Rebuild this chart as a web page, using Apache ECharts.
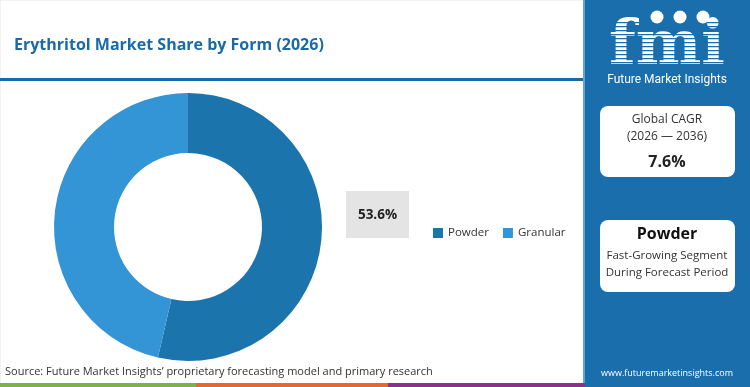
<!DOCTYPE html>
<html>
<head>
<meta charset="utf-8">
<script src="https://cdn.jsdelivr.net/npm/echarts@6/dist/echarts.min.js"></script>
<style>
html,body{margin:0;padding:0;background:#fff;}
#chart{width:750px;height:387px;}
</style>
</head>
<body>
<div id="chart"></div>
<script>
const categories = ['Powder', 'Granular'];
const shares = [53.6, 46.4];
const colors = ['#1c74ad', '#3395d5'];
const titleText = 'Erythritol Market Share by Form (2026)';
const cagrText = '7.6%';
const cagrPeriod = '(2026 \u2014 2036)';
const leadSegment = 'Powder';
const sourceText = 'Source: Future Market Insights\u2019 proprietary forecasting model and primary research';

const FONT = "'Open Sans', 'Noto Sans', sans-serif";
const chart = echarts.init(document.getElementById('chart'), null, {renderer: 'canvas'});

const stripes = [];
for (let y = 22; y < 72; y += 4) {
  stripes.push({type: 'rect', shape: {x: 608, y: y, width: 120, height: 1.3}, style: {fill: '#1a6eab'}, z: 12});
}

const option = {
  animation: false,
  backgroundColor: '#ffffff',
  title: {
    text: titleText,
    left: 9, top: 32,
    textStyle: {fontFamily: FONT, fontSize: 16, fontWeight: 'bold', color: '#1a6aa6'}
  },
  legend: {
    data: categories,
    left: 428, top: 222,
    itemWidth: 10, itemHeight: 10, itemGap: 14,
    icon: 'rect',
    textStyle: {fontFamily: FONT, fontSize: 11.5, color: '#333'}
  },
  color: colors,
  series: [{
    type: 'pie',
    center: [188, 227],
    radius: [74, 134],
    startAngle: 90,
    clockwise: true,
    label: {show: false},
    labelLine: {show: false},
    silent: true,
    data: categories.map((c, i) => ({name: c, value: shares[i]}))
  }],
  graphic: [
    {type: 'rect', shape: {x: 0, y: 0, width: 585, height: 387}, style: {fill: 'none', stroke: '#e6e6e6', lineWidth: 1}, z: 0},
    {type: 'rect', shape: {x: 0, y: 78, width: 590, height: 3}, style: {fill: '#1a6aa6'}, z: 5},
    {type: 'rect', shape: {x: 585, y: 0, width: 165, height: 387}, style: {fill: '#1a6eab'}, z: 5},
    {type: 'rect', shape: {x: 583, y: 0, width: 2, height: 383}, style: {fill: '#5aa6dc'}, z: 6},
    {type: 'rect', shape: {x: 0, y: 383, width: 196, height: 4}, style: {fill: '#7cb342'}, z: 5},
    {type: 'rect', shape: {x: 196, y: 383, width: 192, height: 4}, style: {fill: '#e8672a'}, z: 5},
    {type: 'rect', shape: {x: 388, y: 383, width: 197, height: 4}, style: {fill: '#8e2f8f'}, z: 5},
    // logo
    {type: 'text', style: {text: 'fmi', x: 667, y: 48, align: 'center', verticalAlign: 'middle', fontFamily: "'DejaVu Serif', serif", fontWeight: 'bold', fontSize: 62, fill: '#ffffff'}, z: 10},
    ...stripes,
    {type: 'circle', shape: {cx: 657, cy: 17, r: 6.5}, style: {fill: '#ffffff'}, z: 13},
    {type: 'circle', shape: {cx: 680, cy: 17, r: 6.5}, style: {fill: '#ffffff'}, z: 13},
    {type: 'circle', shape: {cx: 703, cy: 17, r: 6.5}, style: {fill: '#ffffff'}, z: 13},
    {type: 'text', style: {text: 'Future Market Insights', x: 667, y: 80, align: 'center', verticalAlign: 'middle', fontFamily: "'Liberation Sans Narrow', 'Roboto', sans-serif", fontSize: 12, fill: '#ffffff'}, z: 10},
    // CAGR box
    {type: 'rect', shape: {x: 600, y: 106, width: 135, height: 71, r: 8}, style: {fill: '#ffffff'}, z: 10},
    {type: 'text', style: {text: 'Global CAGR', x: 667, y: 120, align: 'center', verticalAlign: 'middle', fontFamily: FONT, fontSize: 12, fill: '#333'}, z: 11},
    {type: 'text', style: {text: cagrPeriod, x: 667, y: 137, align: 'center', verticalAlign: 'middle', fontFamily: FONT, fontSize: 12, fill: '#333'}, z: 11},
    {type: 'text', style: {text: cagrText, x: 667, y: 162, align: 'center', verticalAlign: 'middle', fontFamily: FONT, fontSize: 16, fontWeight: 'bold', fill: '#222'}, z: 11},
    // segment box
    {type: 'rect', shape: {x: 600, y: 220, width: 135, height: 72, r: 8}, style: {fill: '#ffffff'}, z: 10},
    {type: 'text', style: {text: leadSegment, x: 667, y: 234, align: 'center', verticalAlign: 'middle', fontFamily: FONT, fontSize: 16, fontWeight: 'bold', fill: '#111'}, z: 11},
    {type: 'text', style: {text: 'Fast-Growing Segment', x: 667, y: 256, align: 'center', verticalAlign: 'middle', fontFamily: FONT, fontSize: 11.5, fill: '#333'}, z: 11},
    {type: 'text', style: {text: 'During Forecast Period', x: 667, y: 273, align: 'center', verticalAlign: 'middle', fontFamily: FONT, fontSize: 11.5, fill: '#333'}, z: 11},
    // value box
    {type: 'rect', shape: {x: 346, y: 191, width: 63, height: 47}, style: {fill: '#e4e4e4'}, z: 10},
    {type: 'text', style: {text: shares[0].toFixed(1) + '%', x: 377.5, y: 215, align: 'center', verticalAlign: 'middle', fontFamily: FONT, fontSize: 13.5, fontWeight: 'bold', fill: '#222'}, z: 11},
    // footer
    {type: 'text', style: {text: sourceText, x: 5, y: 372, verticalAlign: 'middle', fontFamily: FONT, fontSize: 11, fill: '#333'}, z: 11},
    {type: 'text', style: {text: 'www.futuremarketinsights.com', x: 667, y: 373, align: 'center', verticalAlign: 'middle', fontFamily: FONT, fontSize: 9, fill: '#ffffff'}, z: 11}
  ]
};
chart.setOption(option);
</script>
</body>
</html>
